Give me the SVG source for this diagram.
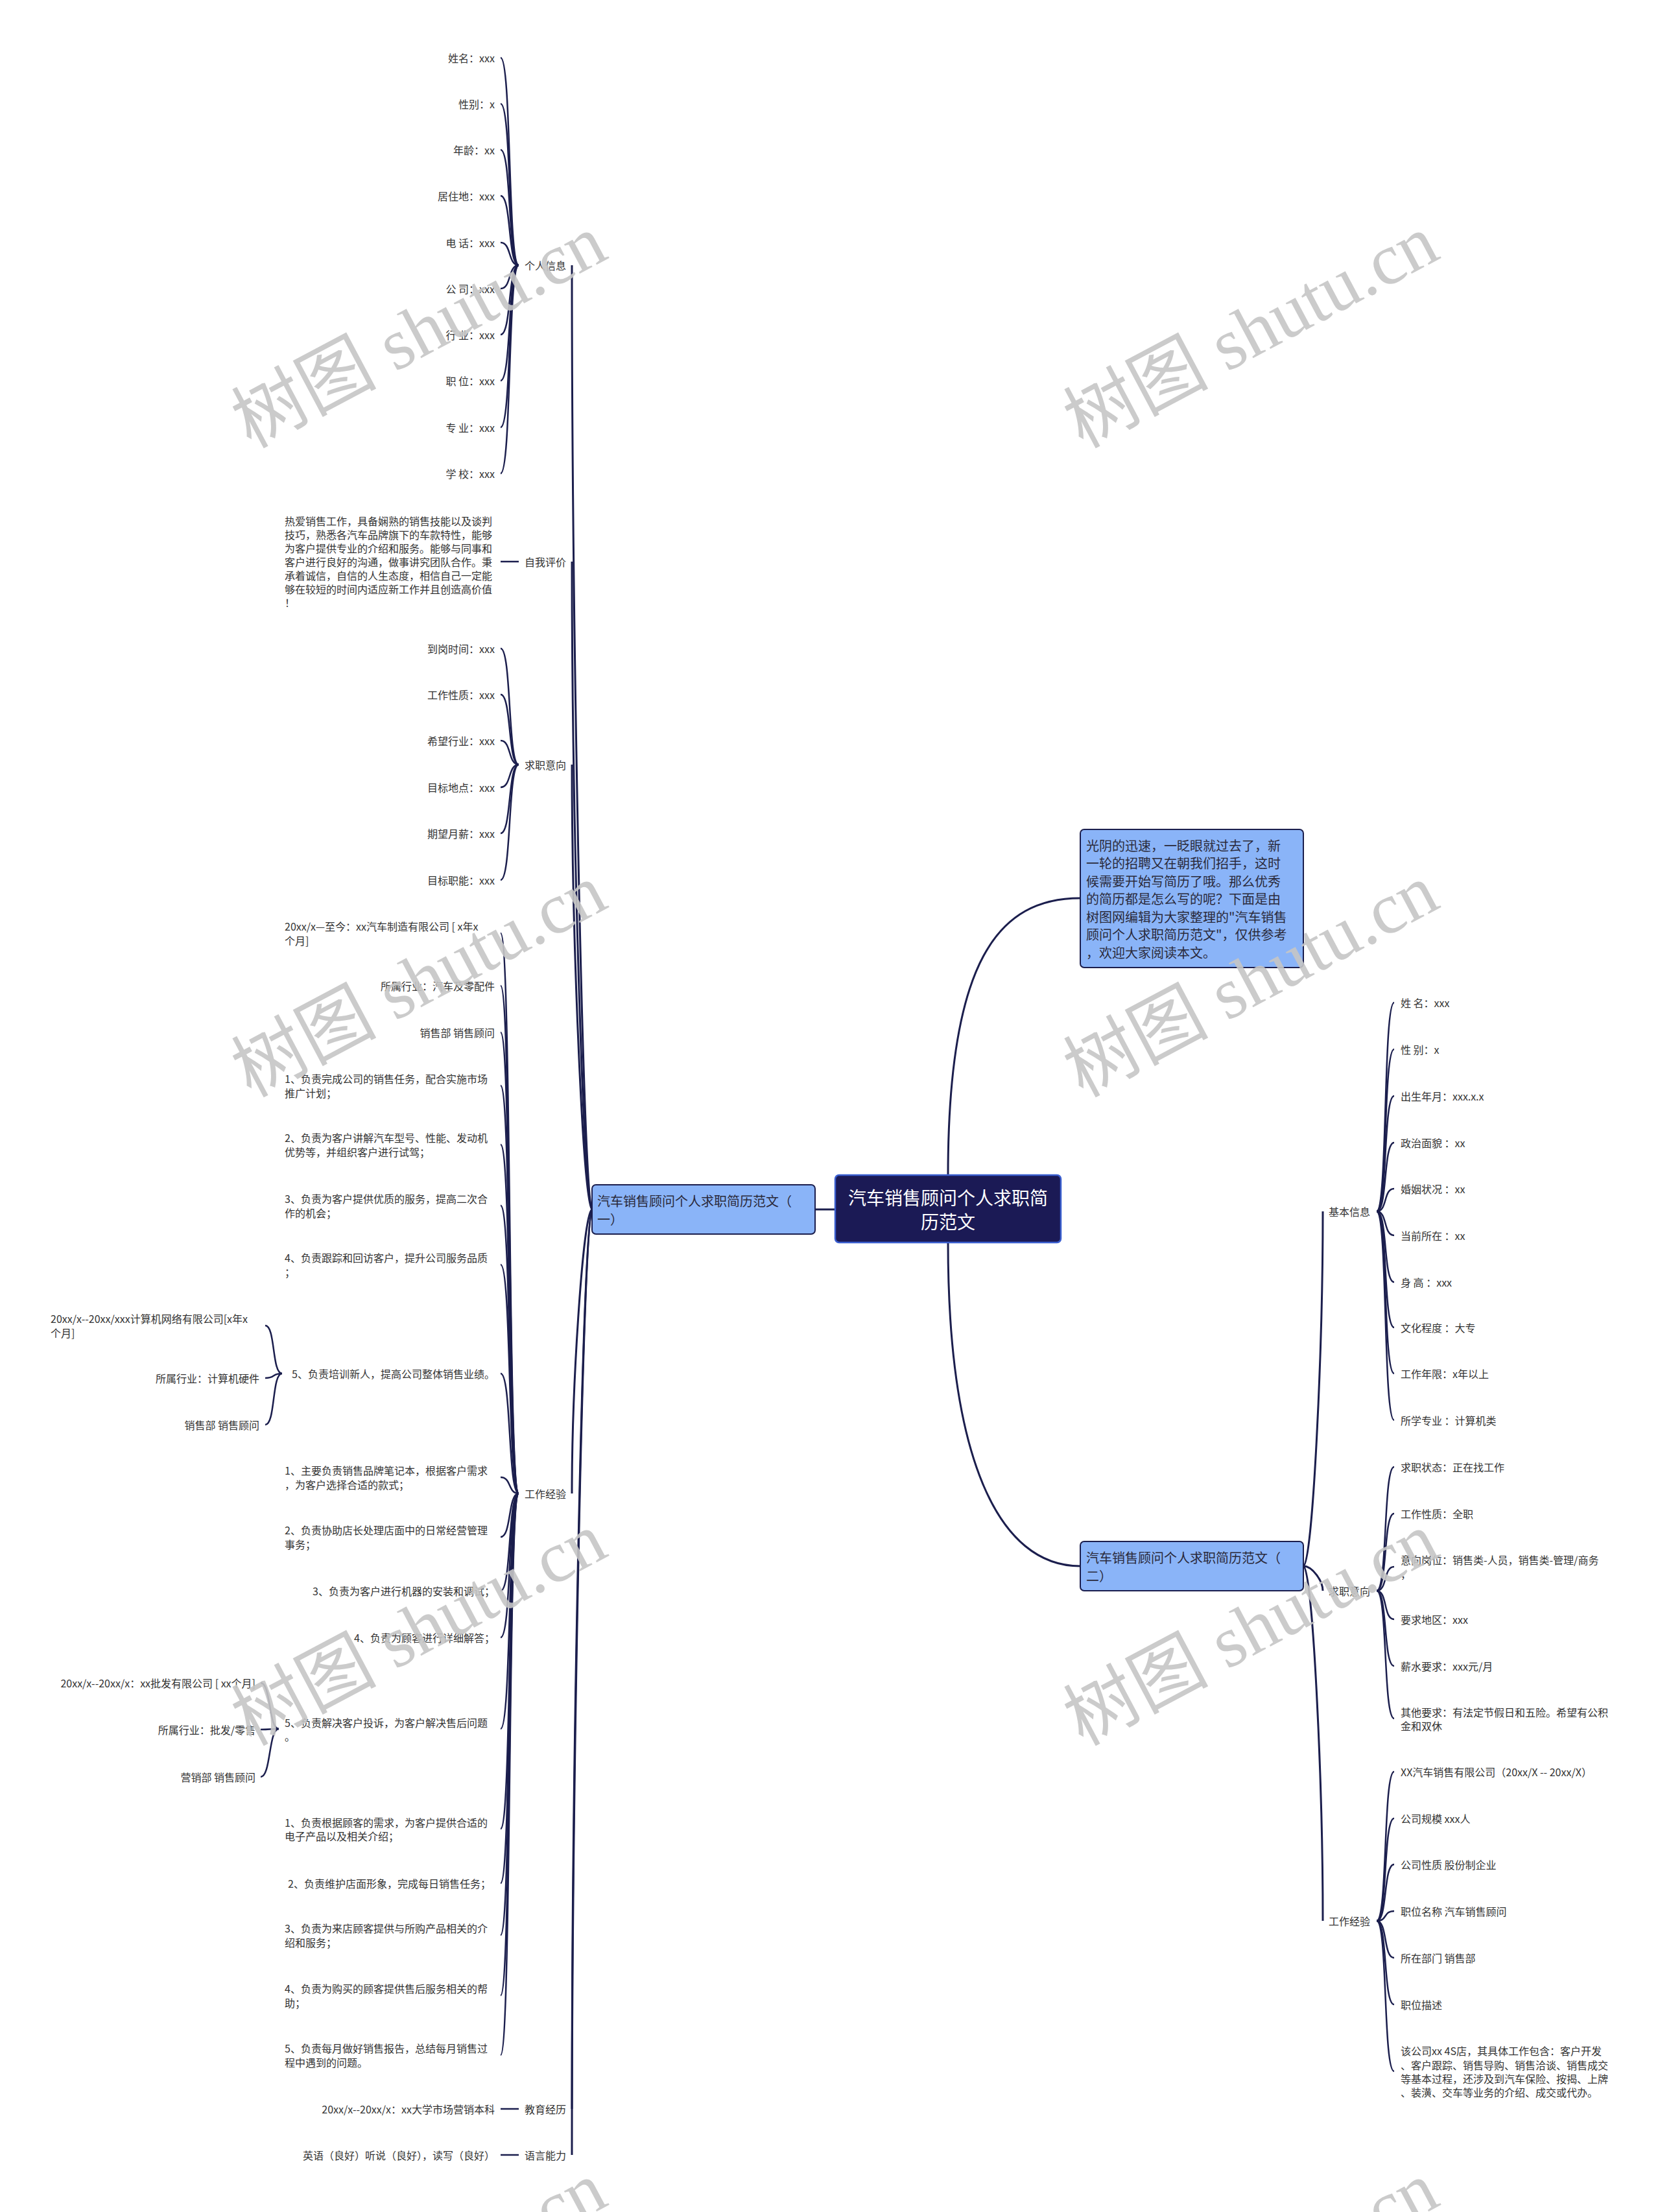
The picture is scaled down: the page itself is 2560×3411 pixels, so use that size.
<svg xmlns="http://www.w3.org/2000/svg" width="2560" height="3411" viewBox="0 0 2560 3411">
<defs>
<style>
.t{font-family:"Noto Sans CJK SC","Liberation Sans",sans-serif;font-size:16px;fill:#333;dominant-baseline:central}
.r{text-anchor:end}
.l1{font-size:20px;fill:#2a2a3a}
.c{font-size:28px;fill:#fff;text-anchor:middle}
.ln{fill:none;stroke:#1b1e4d;stroke-width:2.5}
.tr{fill:none;stroke:#1b1e4d;stroke-width:3}
.box{fill:#8ab4f8;stroke:#1b1e4d;stroke-width:2}
.cbox{fill:#1b1a55;stroke:#3b5fd0;stroke-width:2.5}
.wm{font-family:"Liberation Serif","Noto Sans CJK SC",serif;font-size:112px;fill:#c6c6c6;opacity:0.9;text-anchor:middle;dominant-baseline:central}
</style>
</defs>
<rect width="2560" height="3411" fill="#fff"/>

<g id="connectors">
<path class="tr" d="M1257 1865 L1288 1865"/>
<path class="tr" d="M1462 1812 C1462 1480 1540 1385 1666 1385"/>
<path class="tr" d="M1462 1916 C1462 2250 1540 2415 1666 2415"/>
<path class="tr" d="M913 1865 C900 1865 882 991 882 409"/>
<path class="tr" d="M913 1865 C900 1865 882 1266 882 866"/>
<path class="tr" d="M913 1865 C900 1865 882 1453 882 1179"/>
<path class="tr" d="M913 1865 C900 1865 882 2128 882 2303"/>
<path class="tr" d="M913 1865 C900 1865 882 2697 882 3252"/>
<path class="tr" d="M913 1865 C900 1865 882 2740 882 3323"/>
<path class="ln" d="M772 89 C789 89 783 409 800 409"/>
<path class="ln" d="M772 160 C789 160 783 409 800 409"/>
<path class="ln" d="M772 231 C789 231 783 409 800 409"/>
<path class="ln" d="M772 302 C789 302 783 409 800 409"/>
<path class="ln" d="M772 374 C789 374 783 409 800 409"/>
<path class="ln" d="M772 445 C789 445 783 409 800 409"/>
<path class="ln" d="M772 516 C789 516 783 409 800 409"/>
<path class="ln" d="M772 587 C789 587 783 409 800 409"/>
<path class="ln" d="M772 659 C789 659 783 409 800 409"/>
<path class="ln" d="M772 730 C789 730 783 409 800 409"/>
<path class="ln" d="M772 866 L800 866"/>
<path class="ln" d="M772 1000 C789 1000 783 1179 800 1179"/>
<path class="ln" d="M772 1071 C789 1071 783 1179 800 1179"/>
<path class="ln" d="M772 1142 C789 1142 783 1179 800 1179"/>
<path class="ln" d="M772 1214 C789 1214 783 1179 800 1179"/>
<path class="ln" d="M772 1285 C789 1285 783 1179 800 1179"/>
<path class="ln" d="M772 1357 C789 1357 783 1179 800 1179"/>
<path class="ln" d="M772 1439 C789 1439 783 2303 800 2303"/>
<path class="ln" d="M772 1520 C789 1520 783 2303 800 2303"/>
<path class="ln" d="M772 1592 C789 1592 783 2303 800 2303"/>
<path class="ln" d="M772 1674 C789 1674 783 2303 800 2303"/>
<path class="ln" d="M772 1765 C789 1765 783 2303 800 2303"/>
<path class="ln" d="M772 1859 C789 1859 783 2303 800 2303"/>
<path class="ln" d="M772 1950 C789 1950 783 2303 800 2303"/>
<path class="ln" d="M772 2118 C789 2118 783 2303 800 2303"/>
<path class="ln" d="M772 2278 C789 2278 783 2303 800 2303"/>
<path class="ln" d="M772 2370 C789 2370 783 2303 800 2303"/>
<path class="ln" d="M772 2453 C789 2453 783 2303 800 2303"/>
<path class="ln" d="M772 2525 C789 2525 783 2303 800 2303"/>
<path class="ln" d="M772 2666 C789 2666 783 2303 800 2303"/>
<path class="ln" d="M772 2820 C789 2820 783 2303 800 2303"/>
<path class="ln" d="M772 2904 C789 2904 783 2303 800 2303"/>
<path class="ln" d="M772 2984 C789 2984 783 2303 800 2303"/>
<path class="ln" d="M772 3077 C789 3077 783 2303 800 2303"/>
<path class="ln" d="M772 3169 C789 3169 783 2303 800 2303"/>
<path class="ln" d="M409 2044 C425 2044 419 2118 435 2118"/>
<path class="ln" d="M409 2125 C425 2125 419 2118 435 2118"/>
<path class="ln" d="M409 2197 C425 2197 419 2118 435 2118"/>
<path class="ln" d="M402 2595 C418 2595 414 2666 430 2666"/>
<path class="ln" d="M402 2667 C418 2667 414 2666 430 2666"/>
<path class="ln" d="M402 2740 C418 2740 414 2666 430 2666"/>
<path class="ln" d="M772 3252 L800 3252"/>
<path class="ln" d="M772 3323 L800 3323"/>
<path class="tr" d="M2010 2415 C2024 2415 2040 2087 2040 1868"/>
<path class="tr" d="M2010 2415 C2024 2415 2040 2438 2040 2453"/>
<path class="tr" d="M2010 2415 C2024 2415 2040 2743 2040 2962"/>
<path class="ln" d="M2123 1868 C2140 1868 2133 1546 2150 1546"/>
<path class="ln" d="M2123 1868 C2140 1868 2133 1618 2150 1618"/>
<path class="ln" d="M2123 1868 C2140 1868 2133 1690 2150 1690"/>
<path class="ln" d="M2123 1868 C2140 1868 2133 1762 2150 1762"/>
<path class="ln" d="M2123 1868 C2140 1868 2133 1833 2150 1833"/>
<path class="ln" d="M2123 1868 C2140 1868 2133 1905 2150 1905"/>
<path class="ln" d="M2123 1868 C2140 1868 2133 1977 2150 1977"/>
<path class="ln" d="M2123 1868 C2140 1868 2133 2047 2150 2047"/>
<path class="ln" d="M2123 1868 C2140 1868 2133 2118 2150 2118"/>
<path class="ln" d="M2123 1868 C2140 1868 2133 2190 2150 2190"/>
<path class="ln" d="M2123 2453 C2140 2453 2133 2262 2150 2262"/>
<path class="ln" d="M2123 2453 C2140 2453 2133 2334 2150 2334"/>
<path class="ln" d="M2123 2453 C2140 2453 2133 2416 2150 2416"/>
<path class="ln" d="M2123 2453 C2140 2453 2133 2497 2150 2497"/>
<path class="ln" d="M2123 2453 C2140 2453 2133 2569 2150 2569"/>
<path class="ln" d="M2123 2453 C2140 2453 2133 2650 2150 2650"/>
<path class="ln" d="M2123 2962 C2140 2962 2133 2732 2150 2732"/>
<path class="ln" d="M2123 2962 C2140 2962 2133 2804 2150 2804"/>
<path class="ln" d="M2123 2962 C2140 2962 2133 2875 2150 2875"/>
<path class="ln" d="M2123 2962 C2140 2962 2133 2947 2150 2947"/>
<path class="ln" d="M2123 2962 C2140 2962 2133 3019 2150 3019"/>
<path class="ln" d="M2123 2962 C2140 2962 2133 3091 2150 3091"/>
<path class="ln" d="M2123 2962 C2140 2962 2133 3194 2150 3194"/>
</g>

<g id="n-center">
<rect class="cbox" x="1288" y="1812" width="348" height="104" rx="6"/>
<text class="t c" x="1462" y="1846">汽车销售顾问个人求职简</text>
<text class="t c" x="1462" y="1883">历范文</text>
</g>

<g id="n-left1">
<rect class="box" x="913" y="1827" width="344" height="76" rx="6"/>
<text class="t l1"><tspan x="921" y="1851">汽车销售顾问个人求职简历范文（</tspan><tspan x="921" y="1879">一）</tspan></text>
</g>

<g id="n-intro">
<rect class="box" x="1666" y="1279" width="344" height="213" rx="6"/>
<text class="t l1"><tspan x="1675" y="1303">光阴的迅速，一眨眼就过去了，新</tspan><tspan x="1675" y="1330">一轮的招聘又在朝我们招手，这时</tspan><tspan x="1675" y="1358">候需要开始写简历了哦。那么优秀</tspan><tspan x="1675" y="1385">的简历都是怎么写的呢？下面是由</tspan><tspan x="1675" y="1413">树图网编辑为大家整理的"汽车销售</tspan><tspan x="1675" y="1440">顾问个人求职简历范文"，仅供参考</tspan><tspan x="1675" y="1468">，欢迎大家阅读本文。</tspan></text>
</g>

<g id="n-right2">
<rect class="box" x="1666" y="2377" width="344" height="76" rx="6"/>
<text class="t l1"><tspan x="1675" y="2401">汽车销售顾问个人求职简历范文（</tspan><tspan x="1675" y="2429">二）</tspan></text>
</g>

<g id="n-personal">
<text class="t" x="809" y="409">个人信息</text>
<text class="t r" x="763" y="89">姓名：xxx</text>
<text class="t r" x="763" y="160">性别：x</text>
<text class="t r" x="763" y="231">年龄：xx</text>
<text class="t r" x="763" y="302">居住地：xxx</text>
<text class="t r" x="763" y="374">电 话：xxx</text>
<text class="t r" x="763" y="445">公 司：xxx</text>
<text class="t r" x="763" y="516">行 业：xxx</text>
<text class="t r" x="763" y="587">职 位：xxx</text>
<text class="t r" x="763" y="659">专 业：xxx</text>
<text class="t r" x="763" y="730">学 校：xxx</text>
</g>

<g id="n-self">
<text class="t" x="809" y="866">自我评价</text>
<text class="t"><tspan x="439" y="803">热爱销售工作，具备娴熟的销售技能以及谈判</tspan><tspan x="439" y="824">技巧，熟悉各汽车品牌旗下的车款特性，能够</tspan><tspan x="439" y="845">为客户提供专业的介绍和服务。能够与同事和</tspan><tspan x="439" y="866">客户进行良好的沟通，做事讲究团队合作。秉</tspan><tspan x="439" y="887">承着诚信，自信的人生态度，相信自己一定能</tspan><tspan x="439" y="908">够在较短的时间内适应新工作并且创造高价值</tspan><tspan x="439" y="929">！</tspan></text>
</g>

<g id="n-intent-left">
<text class="t" x="809" y="1179">求职意向</text>
<text class="t r" x="763" y="1000">到岗时间：xxx</text>
<text class="t r" x="763" y="1071">工作性质：xxx</text>
<text class="t r" x="763" y="1142">希望行业：xxx</text>
<text class="t r" x="763" y="1214">目标地点：xxx</text>
<text class="t r" x="763" y="1285">期望月薪：xxx</text>
<text class="t r" x="763" y="1357">目标职能：xxx</text>
</g>

<g id="n-work-left">
<text class="t" x="809" y="2303">工作经验</text>
<text class="t"><tspan x="439" y="1428">20xx/x—至今：xx汽车制造有限公司 [ x年x</tspan><tspan x="439" y="1450">个月]</tspan></text>
<text class="t r" x="763" y="1520">所属行业：汽车及零配件</text>
<text class="t r" x="763" y="1592">销售部 销售顾问</text>
<text class="t"><tspan x="439" y="1663">1、负责完成公司的销售任务，配合实施市场</tspan><tspan x="439" y="1685">推广计划；</tspan></text>
<text class="t"><tspan x="439" y="1754">2、负责为客户讲解汽车型号、性能、发动机</tspan><tspan x="439" y="1776">优势等，并组织客户进行试驾；</tspan></text>
<text class="t"><tspan x="439" y="1848">3、负责为客户提供优质的服务，提高二次合</tspan><tspan x="439" y="1870">作的机会；</tspan></text>
<text class="t"><tspan x="439" y="1939">4、负责跟踪和回访客户，提升公司服务品质</tspan><tspan x="439" y="1961">；</tspan></text>
<text class="t r" x="763" y="2118">5、负责培训新人，提高公司整体销售业绩。</text>
<text class="t"><tspan x="78" y="2033">20xx/x--20xx/xxx计算机网络有限公司[x年x</tspan><tspan x="78" y="2055">个月]</tspan></text>
<text class="t r" x="400" y="2125">所属行业：计算机硬件</text>
<text class="t r" x="400" y="2197">销售部 销售顾问</text>
<text class="t"><tspan x="439" y="2267">1、主要负责销售品牌笔记本，根据客户需求</tspan><tspan x="439" y="2289">，为客户选择合适的款式；</tspan></text>
<text class="t"><tspan x="439" y="2359">2、负责协助店长处理店面中的日常经营管理</tspan><tspan x="439" y="2381">事务；</tspan></text>
<text class="t r" x="763" y="2453">3、负责为客户进行机器的安装和调试；</text>
<text class="t r" x="763" y="2525">4、负责为顾客进行详细解答；</text>
<text class="t"><tspan x="439" y="2656">5、负责解决客户投诉，为客户解决售后问题</tspan><tspan x="439" y="2677">。</tspan></text>
<text class="t r" x="394" y="2595">20xx/x--20xx/x：xx批发有限公司 [ xx个月]</text>
<text class="t r" x="394" y="2667">所属行业：批发/零售</text>
<text class="t r" x="394" y="2740">营销部 销售顾问</text>
<text class="t"><tspan x="439" y="2810">1、负责根据顾客的需求，为客户提供合适的</tspan><tspan x="439" y="2831">电子产品以及相关介绍；</tspan></text>
<text class="t r" x="757" y="2904">2、负责维护店面形象，完成每日销售任务；</text>
<text class="t"><tspan x="439" y="2973">3、负责为来店顾客提供与所购产品相关的介</tspan><tspan x="439" y="2995">绍和服务；</tspan></text>
<text class="t"><tspan x="439" y="3066">4、负责为购买的顾客提供售后服务相关的帮</tspan><tspan x="439" y="3088">助；</tspan></text>
<text class="t"><tspan x="439" y="3158">5、负责每月做好销售报告，总结每月销售过</tspan><tspan x="439" y="3180">程中遇到的问题。</tspan></text>
</g>

<g id="n-edu">
<text class="t" x="809" y="3252">教育经历</text>
<text class="t r" x="763" y="3252">20xx/x--20xx/x：xx大学市场营销本科</text>
</g>

<g id="n-lang">
<text class="t" x="809" y="3323">语言能力</text>
<text class="t r" x="763" y="3323">英语（良好）听说（良好），读写（良好）</text>
</g>

<g id="n-basic">
<text class="t" x="2049" y="1868">基本信息</text>
<text class="t" x="2160" y="1546">姓 名：xxx</text>
<text class="t" x="2160" y="1618">性 别：x</text>
<text class="t" x="2160" y="1690">出生年月：xxx.x.x</text>
<text class="t" x="2160" y="1762">政治面貌 ：xx</text>
<text class="t" x="2160" y="1833">婚姻状况 ：xx</text>
<text class="t" x="2160" y="1905">当前所在 ：xx</text>
<text class="t" x="2160" y="1977">身 高 ：xxx</text>
<text class="t" x="2160" y="2047">文化程度 ：大专</text>
<text class="t" x="2160" y="2118">工作年限：x年以上</text>
<text class="t" x="2160" y="2190">所学专业 ：计算机类</text>
</g>

<g id="n-intent-right">
<text class="t" x="2049" y="2453">求职意向</text>
<text class="t" x="2160" y="2262">求职状态：正在找工作</text>
<text class="t" x="2160" y="2334">工作性质：全职</text>
<text class="t"><tspan x="2160" y="2405">意向岗位：销售类-人员，销售类-管理/商务</tspan><tspan x="2160" y="2427">，</tspan></text>
<text class="t" x="2160" y="2497">要求地区：xxx</text>
<text class="t" x="2160" y="2569">薪水要求：xxx元/月</text>
<text class="t"><tspan x="2160" y="2640">其他要求：有法定节假日和五险。希望有公积</tspan><tspan x="2160" y="2661">金和双休</tspan></text>
</g>

<g id="n-work-right">
<text class="t" x="2049" y="2962">工作经验</text>
<text class="t" x="2160" y="2732">XX汽车销售有限公司（20xx/X -- 20xx/X）</text>
<text class="t" x="2160" y="2804">公司规模 xxx人</text>
<text class="t" x="2160" y="2875">公司性质 股份制企业</text>
<text class="t" x="2160" y="2947">职位名称 汽车销售顾问</text>
<text class="t" x="2160" y="3019">所在部门 销售部</text>
<text class="t" x="2160" y="3091">职位描述</text>
<text class="t"><tspan x="2160" y="3162">该公司xx 4S店，其具体工作包含：客户开发</tspan><tspan x="2160" y="3184">、客户跟踪、销售导购、销售洽谈、销售成交</tspan><tspan x="2160" y="3205">等基本过程，还涉及到汽车保险、按揭、上牌</tspan><tspan x="2160" y="3226">、装潢、交车等业务的介绍、成交或代办。</tspan></text>
</g>

<g id="watermarks">
<text class="wm" transform="translate(646 511) rotate(-28)">树图 shutu.cn</text>
<text class="wm" transform="translate(1929 511) rotate(-28)">树图 shutu.cn</text>
<text class="wm" transform="translate(646 1512) rotate(-28)">树图 shutu.cn</text>
<text class="wm" transform="translate(1929 1512) rotate(-28)">树图 shutu.cn</text>
<text class="wm" transform="translate(646 2512) rotate(-28)">树图 shutu.cn</text>
<text class="wm" transform="translate(1929 2512) rotate(-28)">树图 shutu.cn</text>
<text class="wm" transform="translate(646 3513) rotate(-28)">树图 shutu.cn</text>
<text class="wm" transform="translate(1929 3513) rotate(-28)">树图 shutu.cn</text>
</g>
</svg>
